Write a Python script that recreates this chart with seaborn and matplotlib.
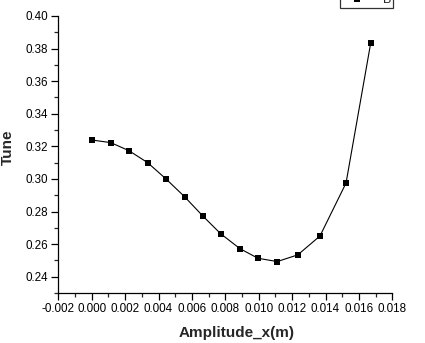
import matplotlib
matplotlib.use("Agg")
import matplotlib.pyplot as plt
import seaborn as sns
import pandas as pd
from matplotlib.ticker import MultipleLocator, FormatStrFormatter

amplitude_x = [0.0000, 0.00114, 0.00222, 0.00335, 0.00445, 0.00557, 0.00665,
               0.00772, 0.00888, 0.00996, 0.01111, 0.01234, 0.01367, 0.01523, 0.01671]
tune = [0.3239, 0.3223, 0.3174, 0.3100, 0.3000, 0.2890, 0.2773,
        0.2664, 0.2572, 0.2513, 0.2493, 0.2534, 0.2650, 0.2975, 0.3836]
series_name = "B"

df = pd.DataFrame({"Amplitude_x(m)": amplitude_x, "Tune": tune, "series": series_name})

sns.set_style("ticks")
plt.rcParams["font.family"] = ["Liberation Sans", "DejaVu Sans"]

fig = plt.figure(figsize=(4.25, 3.43), dpi=100)
ax = fig.add_axes([58.3/425, 50/343, (392.3-58.3)/425, (293-16)/343])

sns.lineplot(data=df, x="Amplitude_x(m)", y="Tune", hue="series",
             palette=["black"], marker="s", markersize=5, markeredgewidth=0,
             linewidth=0.8, ax=ax, legend=True)

ax.set_xlim(-0.002, 0.018)
ax.set_ylim(0.23, 0.40)
ax.xaxis.set_major_locator(MultipleLocator(0.002))
ax.xaxis.set_minor_locator(MultipleLocator(0.001))
ax.yaxis.set_major_locator(MultipleLocator(0.02))
ax.yaxis.set_minor_locator(MultipleLocator(0.01))
ax.xaxis.set_major_formatter(FormatStrFormatter("%.3f"))
ax.yaxis.set_major_formatter(FormatStrFormatter("%.2f"))

ax.tick_params(which="major", direction="out", length=5, width=0.9, labelsize=8.4, pad=2, colors="black")
ax.tick_params(which="minor", direction="out", length=3, width=0.9)
ax.tick_params(axis="y", which="major", pad=2.5)

for s in ["top", "right"]:
    ax.spines[s].set_visible(False)
for s in ["left", "bottom"]:
    ax.spines[s].set_linewidth(0.9)
    ax.spines[s].set_color("black")

ax.set_xlabel("Amplitude_x(m)", fontsize=11, fontweight="bold")
ax.set_ylabel("Tune", fontsize=11, fontweight="bold")
ax.xaxis.set_label_coords(0.535, -0.143)
ax.yaxis.set_label_coords(-0.15, 0.527)
ax.xaxis.label.set_verticalalignment("center")
ax.yaxis.label.set_verticalalignment("center")

leg = ax.legend(loc="lower right", bbox_to_anchor=(393/425, (343-8)/343),
                bbox_transform=fig.transFigure, frameon=True, fancybox=False,
                fontsize=9, handlelength=2.4, handletextpad=0.9,
                borderpad=0.15, borderaxespad=0)
leg.get_frame().set_edgecolor("black")
leg.get_frame().set_linewidth(0.9)

fig.savefig("out.png", dpi=100)
